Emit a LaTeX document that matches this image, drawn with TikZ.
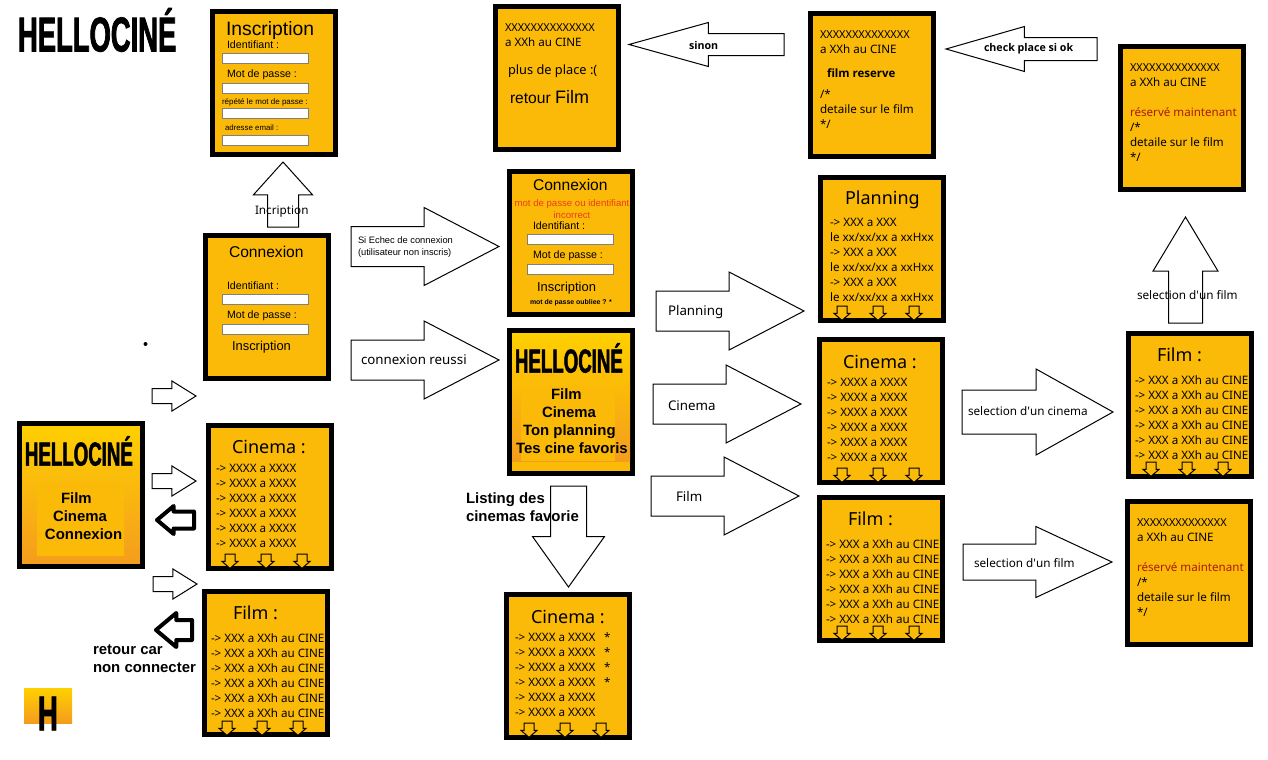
\documentclass[tikz,border=0pt]{standalone}
\usepackage{fontspec}
\usetikzlibrary{shapes.arrows}
\setmainfont{Noto Sans}
\newfontfamily\arialfont{Liberation Sans}
\newfontfamily\tahomabold{Open Sans}
\newfontfamily\logofont[FakeStretch=0.56,FakeBold=1.5]{Liberation Sans}
\definecolor{screenfill}{HTML}{FBBA08}
\definecolor{hometop}{HTML}{FFD000}
\definecolor{homebottom}{HTML}{F49C1E}
\definecolor{fieldline}{HTML}{808080}
\definecolor{errorred}{HTML}{F03C14}
\definecolor{bookred}{HTML}{A81C08}
\newcommand{\xrow}{\fontsize{8.2}{11.25}\selectfont XXXXXXXXXXXXXX}
\tikzset{
  screen/.style={draw,line width=3.75pt,fill=screenfill,minimum width=92.25pt,minimum height=107.25pt,inner sep=0pt,outer sep=0pt},
  homescreen/.style={screen,top color=hometop,bottom color=homebottom},
  homeinner/.style={fill=screenfill,inner sep=0pt,outer sep=0pt},
  field/.style={draw=fieldline,line width=.75pt,fill=white,minimum width=64.5pt,minimum height=7.5pt,inner sep=0pt,outer sep=0pt},
  blockarrow/.style n args={5}{single arrow,draw,line width=.75pt,fill=white,inner sep=#2*.375pt,outer sep=0pt,anchor=tail,
    minimum height=#1*.75pt,single arrow head extend=#3*.75pt,single arrow tip angle=#4,single arrow head indent=0pt,shape border rotate=#5},
  tick/.style={single arrow,draw,line width=.75pt,fill=screenfill,inner sep=3.375pt,outer sep=0pt,anchor=tail,
    minimum height=9pt,single arrow head extend=2.25pt,single arrow tip angle=98,single arrow head indent=0pt,shape border rotate=270},
  txt/.style={anchor=west,inner sep=0pt,outer sep=0pt},
  body/.style={anchor=north west,inner sep=0pt,outer sep=0pt,align=left,font=\fontsize{8.7}{11.25}\selectfont},
  title/.style={txt,font=\fontsize{13.5}{16}\selectfont},
  label/.style={txt,font=\fontsize{8.8}{11}\selectfont},
  biglabel/.style={txt,font=\fontsize{10}{12}\selectfont},
  boldlabel/.style={txt,font=\tahomabold\fontsize{8}{10}\selectfont\bfseries},
  formlabel/.style={txt,font=\arialfont\fontsize{8}{10}\selectfont},
  menu/.style={txt,font=\arialfont\fontsize{11.2}{13.5}\selectfont\bfseries,align=left},
  logo/.style={inner sep=0pt,outer sep=0pt,anchor=west,font=\logofont\bfseries}
}
\begin{document}
\begin{tikzpicture}[x=.75pt,y=-.75pt]
  \useasboundingbox (0,0) rectangle (1268,760);

  % logos
  \node[logo,font=\logofont\bfseries\fontsize{36.7}{40}\selectfont] (logotop) at (18,30) {HELLOCINÉ};
  \node[shape=rectangle,top color=hometop,bottom color=homebottom,minimum width=36pt,minimum height=26.25pt,inner sep=0pt] (logosmall) at (48,705.5) {};
  \node[logo,font=\logofont\bfseries\fontsize{36.7}{40}\selectfont] (logoh) at (38,713.5) {H};
  \node[circle,fill,inner sep=0pt,minimum size=3pt] (dot) at (145.5,344) {};

  % screens
  \node[screen] (inscription) at (274,83) {};
  \node[screen] (connexion) at (267,307) {};
  \node[homescreen] (home) at (81,495) {};
  \node[screen] (cinema) at (270,497) {};
  \node[screen] (film) at (266,663) {};
  \node[screen] (noplace) at (557,78) {};
  \node[screen] (retry) at (571,243) {};
  \node[screen] (homeuser) at (571,402) {};
  \node[screen] (favoris) at (568,665.5) {};
  \node[screen] (reserved) at (872,85) {};
  \node[screen] (planning) at (882,249) {};
  \node[screen] (cinemauser) at (881,410.5) {};
  \node[screen] (filmuser) at (881,569) {};
  \node[screen] (booktop) at (1182,118) {};
  \node[screen] (filmcinema) at (1190,405) {};
  \node[screen] (bookfilm) at (1189,573) {};

  \node[homeinner,minimum width=65.25pt,minimum height=55.5pt] (homeback) at (80.5,519) {};
  \node[homeinner,fill=none,top color=hometop,bottom color=screenfill,minimum width=88.5pt,minimum height=41.25pt] (homeusertop) at (571,360.5) {};
  \node[homeinner,fill=none,top color=screenfill,bottom color=homebottom,minimum width=88.5pt,minimum height=54.75pt] (homeuserside) at (571,424.5) {};
  \node[homeinner,minimum width=70.5pt,minimum height=54.75pt] (homeuserback) at (568,424.5) {};

  % form fields
  \node[field] (f1) at (265.5,58) {};
  \node[field] (f2) at (265.5,88) {};
  \node[field] (f3) at (265.5,113) {};
  \node[field] (f4) at (265.5,140) {};
  \node[field] (f5) at (265.5,299.5) {};
  \node[field] (f6) at (265.5,329.5) {};
  \node[field] (f7) at (570.5,239.5) {};
  \node[field] (f8) at (570.5,269.5) {};

  % block arrows
  \node[blockarrow={65}{30}{14}{84}{90}] (a1) at (283,227) {};
  \node[blockarrow={148}{39}{19}{55}{0}] (a2) at (351,246.5) {};
  \node[blockarrow={148}{39}{19}{55}{0}] (a3) at (351,360) {};
  \node[blockarrow={44}{14}{7.5}{64}{0}] (a4) at (152,396) {};
  \node[blockarrow={44}{14}{7.5}{64}{0}] (a5) at (152,481) {};
  \node[blockarrow={44}{14}{7.5}{64}{0}] (a6) at (153,584) {};
  \node[blockarrow={37}{13}{5.5}{80}{180},line width=3pt,line join=round] (a7) at (194,520) {};
  \node[blockarrow={36}{16}{7}{80}{180},line width=3pt,line join=round] (a8) at (192,630) {};
  \node[blockarrow={155}{21}{11}{31}{180}] (a9) at (784,44.5) {};
  \node[blockarrow={151}{22}{11}{32}{180}] (a10) at (1097,49) {};
  \node[blockarrow={148}{39}{19}{55}{0}] (a11) at (656,311) {};
  \node[blockarrow={148}{39}{19}{55}{0}] (a12) at (653,404) {};
  \node[blockarrow={148}{39}{19}{55}{0}] (a13) at (651,496) {};
  \node[blockarrow={106}{33}{15.5}{62}{90}] (a14) at (1185.5,323) {};
  \node[blockarrow={151}{43}{21}{58.4}{0}] (a15) at (962,412) {};
  \node[blockarrow={149}{35}{17.5}{50}{0}] (a16) at (963,562) {};
  \node[blockarrow={101}{35}{18}{71}{270}] (a17) at (568.5,486) {};

  % small arrows at the foot of the lists
  \node[tick] (t1) at (230,554) {};
  \node[tick] (t2) at (266,554) {};
  \node[tick] (t3) at (302,554) {};
  \node[tick] (t4) at (227,721) {};
  \node[tick] (t5) at (262,721) {};
  \node[tick] (t6) at (298,721) {};
  \node[tick] (t7) at (529,723) {};
  \node[tick] (t8) at (565,723) {};
  \node[tick] (t9) at (601,723) {};
  \node[tick] (t10) at (842,306) {};
  \node[tick] (t11) at (878,306) {};
  \node[tick] (t12) at (914,306) {};
  \node[tick] (t13) at (842,468) {};
  \node[tick] (t14) at (878,468) {};
  \node[tick] (t15) at (914,468) {};
  \node[tick] (t16) at (842,626) {};
  \node[tick] (t17) at (878,626) {};
  \node[tick] (t18) at (914,626) {};
  \node[tick] (t19) at (1151,462) {};
  \node[tick] (t20) at (1187,462) {};
  \node[tick] (t21) at (1223,462) {};

  % inscription
  \node[formlabel,font=\arialfont\fontsize{14.5}{16}\selectfont] (l1) at (226,31) {Inscription};
  \node[formlabel] (l2) at (227,45) {Identifiant :};
  \node[formlabel] (l3) at (227,75) {Mot de passe :};
  \node[formlabel,font=\arialfont\fontsize{6}{8}\selectfont] (l4) at (222,102.5) {répété le mot de passe :};
  \node[formlabel,font=\arialfont\fontsize{5.9}{8}\selectfont] (l5) at (225,128) {adresse email :};

  % connexion
  \node[formlabel,font=\arialfont\fontsize{11.7}{14}\selectfont] (l6) at (229,252) {Connexion};
  \node[formlabel] (l7) at (227,286) {Identifiant :};
  \node[formlabel] (l8) at (227,316) {Mot de passe :};
  \node[formlabel,font=\arialfont\fontsize{9.7}{12}\selectfont] (l9) at (232,347) {Inscription};

  % home
  \node[logo,font=\logofont\bfseries\fontsize{25}{28}\selectfont] (l10) at (25,451) {HELLOCINÉ};
  \node[menu] (l11) at (61,498) {Film};
  \node[menu] (l12) at (53,516) {Cinema};
  \node[menu] (l13) at (45,534) {Connexion};

  % lists
  \node[title] (l14) at (232,447) {Cinema :};
  \node[body] (l15) at (216,464) {-> XXXX a XXXX\\-> XXXX a XXXX\\-> XXXX a XXXX\\-> XXXX a XXXX\\-> XXXX a XXXX\\-> XXXX a XXXX};
  \node[title] (l16) at (233,612.5) {Film :};
  \node[body] (l17) at (211,634) {-> XXX a XXh au CINE\\-> XXX a XXh au CINE\\-> XXX a XXh au CINE\\-> XXX a XXh au CINE\\-> XXX a XXh au CINE\\-> XXX a XXh au CINE};
  \node[menu] (l18) at (93,659) {retour car\\non connecter};

  % no place left
  \node[body] (l19) at (505,23.5) {\xrow\\a XXh au CINE};
  \node[label,font=\fontsize{9.6}{12}\selectfont] (l20) at (508,71) {plus de place :(};
  \node[formlabel,font=\arialfont\fontsize{11.7}{14}\selectfont] (l21) at (510,97) {retour \fontsize{13.5}{14}\selectfont Film};

  % failed login
  \node[formlabel,font=\arialfont\fontsize{11.7}{14}\selectfont] (l22) at (533,185) {Connexion};
  \node[formlabel,anchor=center,align=center,text=errorred,font=\arialfont\fontsize{7.2}{9}\selectfont] (l23) at (572,209) {mot de passe ou identifiant\\incorrect};
  \node[formlabel] (l24) at (533,226) {Identifiant :};
  \node[formlabel] (l25) at (533,256) {Mot de passe :};
  \node[formlabel,font=\arialfont\fontsize{9.7}{12}\selectfont] (l26) at (537,288) {Inscription};
  \node[formlabel,font=\arialfont\fontsize{5.2}{7}\selectfont\bfseries] (l27) at (530,302.5) {mot de passe oubliee ? *};

  % user home
  \node[logo,font=\logofont\bfseries\fontsize{25}{28}\selectfont] (l28) at (515,358) {HELLOCINÉ};
  \node[menu] (l29) at (551,394) {Film};
  \node[menu] (l30) at (542,412) {Cinema};
  \node[menu] (l31) at (523,431.5) {Ton planning};
  \node[menu] (l32) at (516,448) {Tes cine favoris};

  % favourites
  \node[menu] (l33) at (466,507) {Listing des\\cinemas favorie};
  \node[title] (l34) at (531,617) {Cinema :};
  \node[body] (l35) at (515,633) {-> XXXX a XXXX\\-> XXXX a XXXX\\-> XXXX a XXXX\\-> XXXX a XXXX\\-> XXXX a XXXX\\-> XXXX a XXXX};
  \node[body] (l36) at (604,633) {*\\*\\*\\*};

  % third column
  \node[body] (l37) at (820,30.5) {\xrow\\a XXh au CINE};
  \node[boldlabel,font=\tahomabold\fontsize{8.6}{10}\selectfont\bfseries] (l38) at (827,73) {film reserve};
  \node[body] (l39) at (820,90) {/*\\detaile sur le film\\*/};
  \node[title] (l40) at (845,200) {Planning};
  \node[body] (l41) at (830,218) {-> XXX a XXX\\le xx/xx/xx a xxHxx\\-> XXX a XXX\\le xx/xx/xx a xxHxx\\-> XXX a XXX\\le xx/xx/xx a xxHxx};
  \node[title] (l42) at (843,362) {Cinema :};
  \node[body] (l43) at (827,378) {-> XXXX a XXXX\\-> XXXX a XXXX\\-> XXXX a XXXX\\-> XXXX a XXXX\\-> XXXX a XXXX\\-> XXXX a XXXX};
  \node[title] (l44) at (848,518.5) {Film :};
  \node[body] (l45) at (826,540) {-> XXX a XXh au CINE\\-> XXX a XXh au CINE\\-> XXX a XXh au CINE\\-> XXX a XXh au CINE\\-> XXX a XXh au CINE\\-> XXX a XXh au CINE};

  % right column
  \node[body] (l46) at (1130,64) {\xrow\\a XXh au CINE\\[11.25pt]\textcolor{bookred}{réservé maintenant}\\/*\\detaile sur le film\\*/};
  \node[title] (l47) at (1157,355) {Film :};
  \node[body] (l48) at (1135,376) {-> XXX a XXh au CINE\\-> XXX a XXh au CINE\\-> XXX a XXh au CINE\\-> XXX a XXh au CINE\\-> XXX a XXh au CINE\\-> XXX a XXh au CINE};
  \node[body] (l49) at (1137,519) {\xrow\\a XXh au CINE\\[11.25pt]\textcolor{bookred}{réservé maintenant}\\/*\\detaile sur le film\\*/};

  % arrow labels
  \node[label] (l50) at (255,212) {Incription};
  \node[formlabel,align=left,font=\arialfont\fontsize{7}{9}\selectfont] (l51) at (358,247) {Si Echec de connexion\\(utilisateur non inscris)};
  \node[biglabel] (l52) at (361,360) {connexion reussi};
  \node[boldlabel] (l53) at (689,46) {sinon};
  \node[boldlabel] (l54) at (984,49) {check place si ok};
  \node[biglabel] (l55) at (668,312) {Planning};
  \node[biglabel] (l56) at (668,406) {Cinema};
  \node[biglabel] (l57) at (676,496) {Film};
  \node[label] (l58) at (1137,295) {selection d\textquotesingle un film};
  \node[label] (l59) at (968,411) {selection d\textquotesingle un cinema};
  \node[label] (l60) at (974,563) {selection d\textquotesingle un film};
\end{tikzpicture}
\end{document}
